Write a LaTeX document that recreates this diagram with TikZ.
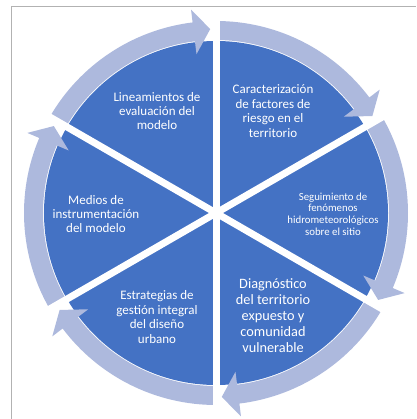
\documentclass[tikz,border=0pt]{standalone}
\usepackage{fontspec}
\setmainfont{Carlito}
\usepackage{tikz}
\definecolor{sector}{HTML}{4472C4}
\definecolor{cycle}{HTML}{ADB9DD}
\tikzset{stage/.style={align=center, text=white, font=\fontsize{13}{14.4}\selectfont}}

\begin{document}
\begin{tikzpicture}
       \useasboundingbox (-216pt, -206pt) rectangle (200pt, 213pt);
       \draw[gray!60, line width=1.3pt] (-204.5pt, -206pt) -- (-204.5pt, 206.5pt) -- (200pt, 206.5pt);

       % disc and the ring of arrows round it
       \fill[sector] (0, 0) circle (172pt);
       \foreach \s in {90, 30, -30, -90, -150, -210} {
          \fill[cycle] (\s:192pt) arc[start angle=\s, end angle=\s-53, radius=192pt]
             -- (\s-53:205pt) -- (\s-58.2:184pt) -- (\s-53:160pt)
             -- (\s-53:173pt) arc[start angle=\s-53, end angle=\s, radius=173pt] -- cycle;
       }
       % gaps between the six sectors
       \foreach \a in {90, 30, -30}
          \draw[white, line width=7pt] (\a:197pt) -- (\a+180:197pt);

       \node[stage] (lineam) at (-59pt, 102pt) {Lineamientos de\\evaluación del\\modelo};
       \node[stage] (caract) at ( 57pt, 102pt) {Caracterización\\de factores de\\riesgo en el\\territorio};
       \node[stage, font=\fontsize{10.8}{11.6}\selectfont] (seguim) at (117pt, -1pt) {Seguimiento de\\fenómenos\\hidrometeorológicos\\sobre el sitio};
       \node[stage, font=\fontsize{14.3}{16}\selectfont] (diagn) at ( 57pt, -103pt) {Diagnóstico\\del territorio\\expuesto y\\comunidad\\vulnerable};
       \node[stage] (estrat) at (-59pt, -104pt) {Estrategias de\\gestión integral\\del diseño\\urbano};
       \node[stage] (medios) at (-120pt, -1pt) {Medios de\\instrumentación\\del modelo};
\end{tikzpicture}
\end{document}
